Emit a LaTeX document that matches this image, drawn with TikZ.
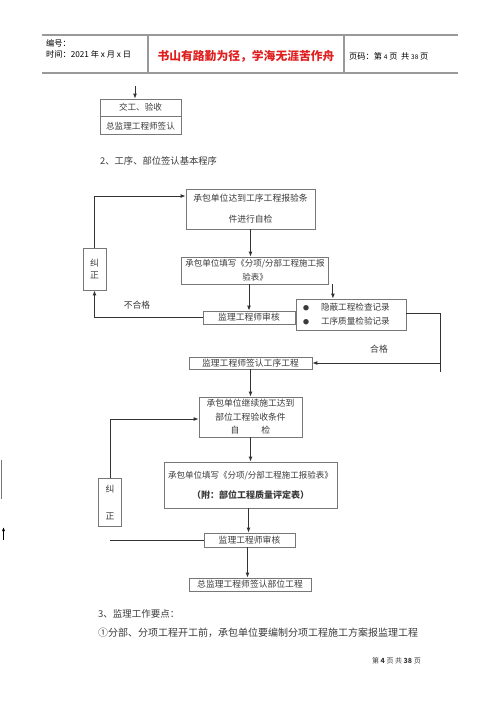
\documentclass[tikz,border=0pt]{standalone}
\usepackage{fontspec}
\setmainfont{Noto Sans CJK SC}
\usetikzlibrary{arrows.meta,calc}
\definecolor{boxgray}{HTML}{777777}
\definecolor{linegray}{HTML}{333333}
\definecolor{txtgray}{HTML}{3A3A3A}
\definecolor{hdrgray}{HTML}{999999}
\definecolor{hdrred}{HTML}{E02020}
\newcommand{\smallbul}{{\fontsize{6}{6}\selectfont ●}}
\begin{document}
\begin{tikzpicture}[x=1pt,y=-1pt,
  box/.style={draw=boxgray, line width=0.8pt, rectangle, inner sep=0pt, align=center, text=txtgray},
  arr/.style={-{Latex[length=5pt,width=4pt]}, line width=0.9pt, draw=linegray},
  ln/.style={line width=0.9pt, draw=linegray},
  hdr/.style={line width=1.3pt, draw=hdrgray},
  txt/.style={inner sep=0pt, text=txtgray}]
\useasboundingbox (0,0) rectangle (500,707);

% header
\coordinate (h1) at (42,35);
\coordinate (h2) at (458,35);
\coordinate (h3) at (42,73);
\coordinate (h4) at (458,73);
\coordinate (v1) at (148,35);
\coordinate (v2) at (344,35);
\draw[hdr] (h1) -- (h2);
\draw[hdr] (h3) -- (h4);
\draw[hdr] (v1) -- (v1 |- h3);
\draw[hdr] (v2) -- (v2 |- h3);
\node[txt, anchor=west, font=\fontsize{8.2}{9}\selectfont, text=black] (bh) at (46,43) {编号：};
\node[txt, anchor=west, font=\fontsize{8.2}{9}\selectfont, text=black] (sj) at (46,54) {时间：2021 年 x 月 x 日};
\node[txt, font=\bfseries\fontsize{11.8}{13}\selectfont, text=hdrred] (motto) at (246,56) {书山有路勤为径，学海无涯苦作舟};
\node[txt, anchor=west, font=\fontsize{8.2}{9}\selectfont, text=black] (ym) at (349,56) {页码：第 {\fontsize{6.5}{7}\selectfont 4} 页\ \ 共 {\fontsize{6.5}{7}\selectfont 38} 页};

% top small box
\coordinate (t0) at (135,86);
\node[box, minimum width=81pt, minimum height=17pt, font=\fontsize{8.6}{10}\selectfont] (jg) at (140.5,107.5) {交工、验收};
\node[box, minimum width=81pt, minimum height=18pt, font=\fontsize{8.6}{10}\selectfont, anchor=north] (zj) at (jg.south) {总监理工程师签认};
\draw[arr] (t0) -- (t0 |- jg.north);

% heading
\node[txt, anchor=west, font=\fontsize{9.3}{11}\selectfont] (h2t) at (100,161) {2、工序、部位签认基本程序};

% flow part 1
\node[box, minimum width=129pt, minimum height=40pt, font=\fontsize{8.8}{21}\selectfont] (b1) at (250.5,209) {承包单位达到工序工程报验条\\件进行自检};
\node[box, minimum width=147pt, minimum height=27pt, font=\fontsize{8.5}{14}\selectfont] (b2) at (255,270.5) {承包单位填写《分项/分部工程施工报\\验表》};
\node[box, minimum width=92pt, minimum height=13pt, font=\fontsize{8.8}{10}\selectfont] (sh1) at (249,317.5) {监理工程师审核};
\node[box, minimum height=31pt, text width=96pt, inner xsep=7pt, font=\fontsize{8.6}{14}\selectfont, align=left] (bl) at (351,314.5) {\smallbul\hspace{12pt}隐蔽工程检查记录\\\smallbul\hspace{12pt}工序质量检验记录};
\node[box, minimum width=23pt, minimum height=42pt, font=\fontsize{8.8}{12}\selectfont] (jz1) at (94.5,269) {纠\\正};
\node[box, minimum width=123pt, minimum height=12pt, font=\fontsize{8.8}{10}\selectfont] (gq) at (250.5,363) {监理工程师签认工序工程};
\node[txt, font=\fontsize{8.8}{10}\selectfont] (bhg) at (137,305) {不合格};
\node[txt, font=\fontsize{8.8}{10}\selectfont] (hg) at (379,349) {合格};
\coordinate (rc) at (440,372);

\draw[arr] (b1.south) -- (b1.south |- b2.north);
\draw[arr] (b2.south -| sh1) -- (sh1.north);
\draw[arr] ([xshift=4pt]b2.south east) -- ([xshift=4pt]b2.south east |- bl.north);
\draw[arr] (sh1.west) -| (jz1.south);
\draw[arr] (jz1.north) |- ([yshift=13pt]b1.west);
\draw[ln] ([yshift=1.5pt]bl.east) -| (rc);
\draw[arr] (rc |- gq.east) -- (gq.east);

% flow part 2
\node[box, minimum width=103pt, minimum height=40pt, font=\fontsize{8.8}{13.5}\selectfont] (b3) at (250.5,417) {承包单位继续施工达到\\部位工程验收条件\\自\hspace{22pt}检};
\node[box, minimum width=173pt, minimum height=46pt, font=\fontsize{8.5}{20}\selectfont] (b4) at (250.5,485) {承包单位填写《分项/分部工程施工报验表》\\{\bfseries\fontsize{9}{20}\selectfont （附：部位工程质量评定表）}};
\node[box, minimum width=91pt, minimum height=14pt, font=\fontsize{8.8}{10}\selectfont] (sh2) at (249.5,540) {监理工程师审核};
\node[box, minimum width=122pt, minimum height=13pt, font=\fontsize{8.8}{10}\selectfont] (fin) at (250,584.5) {总监理工程师签认部位工程};
\node[box, minimum width=23pt, minimum height=48pt, font=\fontsize{8.8}{27}\selectfont] (jz2) at (110,502) {纠\\正};

\draw[arr] (gq.south) -- (gq.south |- b3.north);
\draw[arr] (b3.south) -- (b3.south |- b4.north);
\draw[arr] ([xshift=-2pt]b4.south) -- ([xshift=-2pt]b4.south |- sh2.north);
\draw[arr] ([xshift=-2pt]sh2.south) -- ([xshift=-2pt]sh2.south |- fin.north);
\draw[arr] (jz2.north) |- ([yshift=-2pt]b3.west);
\draw[ln] (sh2.west) -- (sh2.west -| jz2);

% stray marks at left edge
\coordinate (s1) at (1.2,460);
\coordinate (s2) at (1.2,499);
\coordinate (s3) at (3.5,540);
\coordinate (s4) at (3.5,527);
\draw[line width=1.2pt, draw=boxgray] (s1) -- (s2);
\draw[-{Latex[length=4pt,width=3pt]}, line width=0.7pt, draw=black] (s3) -- (s4);

% bottom text
\node[txt, anchor=west, font=\fontsize{9.5}{11}\selectfont] (p3) at (98,614) {3、监理工作要点：};
\node[txt, anchor=west, font=\fontsize{10}{11}\selectfont] (p4) at (98,633) {①分部、分项工程开工前，承包单位要编制分项工程施工方案报监理工程};
\node[txt, anchor=east, font=\fontsize{7}{8}\selectfont] (ft) at (421,661) {第 \textbf{4} 页 共 \textbf{38} 页};
\end{tikzpicture}
\end{document}
